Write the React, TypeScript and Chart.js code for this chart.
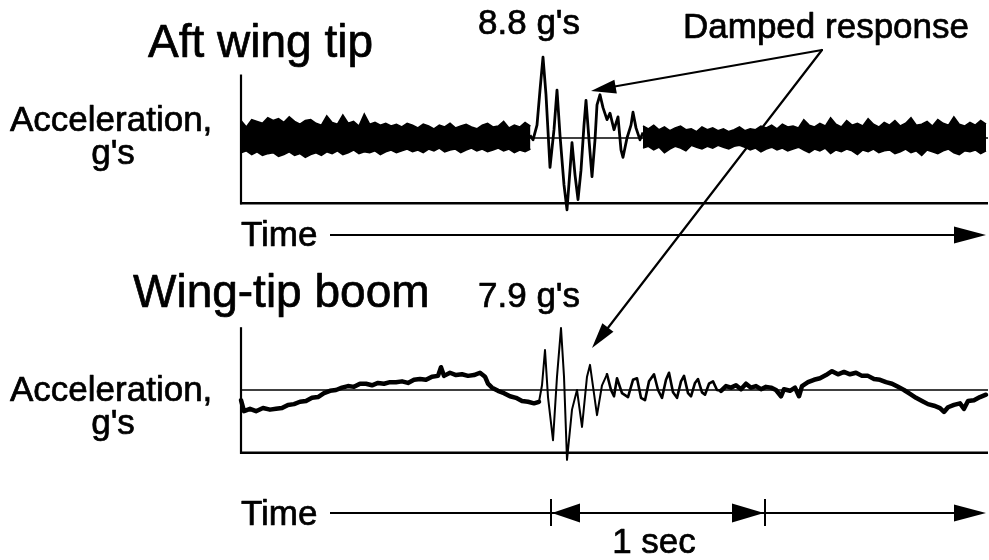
import React, { useEffect, useRef } from "react";
import { Chart, registerables } from "chart.js";

Chart.register(...registerables);

// ---- time base (samples) ----
const SAMPLES_PER_SEC = 214;
const RECORD_LENGTH = 747; // samples shown
const ENV_STEP = 5.36; // samples between envelope readings
const ONE_SEC_START = 310; // sample where the "1 sec" bracket starts

// ---- Aft wing tip: noise envelope (g) read every ENV_STEP samples ----
const aftUpper: (number | null)[] = [
  1.9, 1.2, 2.0, 1.8, 1.6, 2.2, 1.9, 2.1, 1.7, 2.3,
  1.8, 1.5, 1.9, 2.0, 1.6, 1.4, 2.4, 1.7, 1.5, 2.5,
  1.6, 1.8, 1.3, 2.6, 1.5, 1.7, 1.4, 1.6, 1.3, 1.5,
  1.2, 1.6, 1.4, 1.1, 1.5, 1.3, 1.0, 1.4, 1.2, 1.6,
  1.1, 1.3, 1.5, 1.2, 1.0, 1.4, 1.6, 1.2, 1.3, 1.8,
  1.1, 1.4, 1.2, 1.7, 1.3,
  null, null, null, null, null, null, null, null, null, null,
  null, null, null, null, null, null, null, null, null, null,
  1.3, 1.0, 1.4, 0.9, 1.2, 0.8, 1.1, 1.3, 0.9, 1.0,
  0.7, 1.2, 0.9, 1.1, 0.8, 1.0, 0.7, 0.9, 1.2, 0.8,
  1.0, 0.9, 1.3, 1.1, 1.4, 1.0, 1.5, 1.2, 1.3, 1.1,
  2.0, 1.4, 1.2, 1.6, 1.3, 2.2, 1.5, 1.2, 1.9, 1.4,
  1.6, 1.3, 2.1, 1.5, 1.2, 1.7, 1.4, 1.9, 1.3, 1.6,
  2.2, 1.4, 1.5, 1.8, 1.3, 2.0, 1.6, 1.4, 2.3, 1.5,
  1.3, 1.7, 1.4, 1.9, 1.5,
];
const aftLower: (number | null)[] = [
  -1.6, -1.4, -1.8, -1.5, -1.9, -1.7, -1.6, -2.0, -1.8, -1.5,
  -1.9, -1.7, -2.1, -1.8, -1.6, -1.9, -1.5, -1.7, -1.4, -1.8,
  -1.6, -1.3, -1.7, -1.5, -1.6, -1.4, -1.8, -1.5, -1.3, -1.6,
  -1.4, -1.2, -1.5, -1.3, -1.6, -1.2, -1.4, -1.1, -1.5, -1.3,
  -1.2, -1.6, -1.3, -1.1, -1.4, -1.2, -1.5, -1.3, -1.1, -1.4,
  -1.2, -1.6, -1.3, -1.5, -1.2,
  null, null, null, null, null, null, null, null, null, null,
  null, null, null, null, null, null, null, null, null, null,
  -1.1, -0.9, -1.3, -1.0, -1.6, -1.2, -0.9, -1.1, -1.4, -0.8,
  -1.0, -1.2, -0.9, -1.1, -0.8, -1.0, -1.2, -0.9, -0.8, -1.0,
  -1.3, -1.1, -1.5, -1.2, -1.0, -1.3, -1.1, -1.4, -1.2, -1.0,
  -1.3, -1.6, -1.2, -1.4, -1.1, -1.7, -1.3, -1.5, -1.2, -1.4,
  -1.8, -1.3, -1.5, -1.2, -1.6, -1.4, -1.3, -1.7, -1.5, -1.2,
  -1.6, -1.4, -1.9, -1.3, -1.5, -1.7, -1.4, -1.2, -1.6, -1.8,
  -1.4, -1.5, -1.3, -1.7, -1.4,
];

// ---- Aft wing tip: impact transient ----
const aftTransientT = [
  289, 292, 296, 299, 302, 305, 309, 313, 316, 319, 323,
  326, 329, 331, 334, 337, 340, 343, 345, 348, 351,
  354, 356, 359, 362, 366, 369, 373, 377, 380, 382,
  386, 390, 392, 395, 399, 402,
];
const aftTransientG = [
  0.3, -0.2, 1.4, 5.2, 8.8, 4.7, -3.2, 0.9, 5.2, 0.3, -5.1,
  -7.8, -3.5, -0.5, -4.0, -6.7, -3.5, 1.4, 4.1, -0.2, -4.2,
  -0.2, 3.6, 4.7, 3.3, 2.0, 2.7, 0.9, 2.3, -1.3, -2.1,
  0.0, 1.4, 2.8, 1.1, -0.2, 0.6,
];

// ---- Wing-tip boom trace ----
const boomT = [
  0, 3, 9, 15, 22, 29, 35, 41, 47, 53,
  59, 65, 71, 77, 83, 89, 95, 101, 107, 113,
  119, 125, 131, 137, 143, 149, 155, 161, 167, 173,
  179, 185, 191, 197, 200, 203, 209, 215, 221, 227,
  233, 239, 244, 247, 251, 257, 263, 269, 275, 281,
  287, 293, 298, 301, 304, 307, 312, 316, 320, 323,
  326, 331, 336, 341, 346, 349, 356, 361, 366, 370,
  373, 376, 381, 387, 392, 396, 400, 404, 408, 413,
  417, 421, 425, 428, 432, 436, 440, 443, 447, 450,
  454, 457, 461, 464, 468, 472, 476, 480, 485, 490,
  495, 500, 505, 510, 515, 520, 525, 530, 535, 540,
  543, 549, 554, 558, 561, 567, 573, 579, 585, 591,
  597, 603, 609, 615, 621, 627, 633, 639, 645, 651,
  657, 663, 669, 675, 681, 687, 693, 699, 703, 707,
  713, 719, 723, 727, 733, 739, 745,
];
const boomG = [
  -1.3, -2.7, -2.4, -2.7, -2.3, -2.5, -2.4, -2.3, -1.9, -1.8,
  -1.5, -1.4, -1.0, -0.9, -0.4, -0.1, 0.0, 0.3, 0.5, 0.4,
  0.8, 0.8, 0.6, 0.9, 0.8, 1.0, 1.0, 1.1, 0.9, 1.3,
  1.4, 1.3, 1.7, 1.8, 2.9, 1.8, 2.2, 1.9, 2.0, 1.8,
  1.9, 2.2, 1.7, 0.8, 0.3, -0.1, -0.4, -0.8, -1.0, -1.4,
  -1.5, -1.7, -1.5, 0.6, 5.1, -0.9, -6.4, 1.7, 7.9, 1.7,
  -8.9, -2.5, 0.0, -4.7, 1.7, 3.2, -3.2, 0.6, 2.0, 0.0,
  -0.8, 1.5, -0.4, -0.9, 1.3, 1.5, -1.0, -1.3, 1.1, 2.0,
  0.0, -1.0, 1.3, 2.2, -0.3, -1.0, 1.1, 1.8, -0.4, -0.8,
  0.9, 1.4, -0.3, -0.6, 0.8, 1.1, 0.0, -0.1, 0.5, 0.3,
  0.6, 0.1, 0.8, 0.3, 0.5, 0.1, 0.4, 0.3, 0.0, -0.8,
  0.1, -0.1, 0.3, -0.8, 0.5, 1.0, 1.3, 1.5, 1.9, 2.4,
  2.0, 2.3, 2.0, 2.2, 1.8, 1.8, 1.4, 1.3, 1.0, 0.8,
  0.4, 0.0, -0.5, -1.0, -1.4, -1.8, -2.0, -2.3, -2.8, -2.2,
  -1.9, -1.7, -2.4, -1.4, -1.3, -0.9, -0.6,
];

// panel extents (g) of the drawn axis frames
const AFT_PANEL = [-7.1, 6.9];
const BOOM_PANEL = [-8.0, 8.0];

// ---- layout ----
const W = 989;
const H = 560;
const PLOT_LEFT = 241;
const AFT_ZERO_PX = 138;
const AFT_PX_PER_G = 9.2;
const BOOM_ZERO_PX = 390;
const BOOM_PX_PER_G = 7.85;
const FONT = "'Liberation Sans', Arial, Helvetica, sans-serif";

function head(ctx: CanvasRenderingContext2D, tx: number, ty: number, fx: number, fy: number, len: number, half: number) {
  const a = Math.atan2(ty - fy, tx - fx);
  const c = Math.cos(a), s = Math.sin(a);
  const bx = tx - c * len, by = ty - s * len;
  ctx.beginPath();
  ctx.moveTo(tx, ty);
  ctx.lineTo(bx - s * half, by + c * half);
  ctx.lineTo(bx + s * half, by - c * half);
  ctx.closePath();
  ctx.fill();
}

function line(ctx: CanvasRenderingContext2D, x1: number, y1: number, x2: number, y2: number, w: number) {
  ctx.lineWidth = w;
  ctx.beginPath();
  ctx.moveTo(x1, y1);
  ctx.lineTo(x2, y2);
  ctx.stroke();
}

function text(ctx: CanvasRenderingContext2D, s: string, x: number, y: number) {
  ctx.fillText(s, x, y);
  ctx.lineWidth = 0.7;
  ctx.strokeText(s, x, y);
}

const framePlugin = {
  id: "frames",
  beforeDatasetsDraw(chart: any) {
    const { ctx, scales } = chart;
    const x = scales.x;
    const xl = x.getPixelForValue(0);
    const xr = x.getPixelForValue(RECORD_LENGTH);
    ctx.save();
    ctx.strokeStyle = "#000";
    ctx.lineCap = "butt";
    const panels: [any, number[]][] = [
      [scales.yAft, AFT_PANEL],
      [scales.yBoom, BOOM_PANEL],
    ];
    for (const [ys, ext] of panels) {
      const top = ys.getPixelForValue(ext[1]);
      const bot = ys.getPixelForValue(ext[0]);
      const zero = ys.getPixelForValue(0);
      line(ctx, xl, top, xl, bot + 1, 2.2);
      line(ctx, xl - 1, bot, xr, bot, 2.4);
      line(ctx, xl, zero, xr, zero, 1.6);
    }
    ctx.restore();
  },
  afterDatasetsDraw(chart: any) {
    const { ctx, scales } = chart;
    const x = scales.x;
    ctx.save();
    ctx.fillStyle = "#000";
    ctx.strokeStyle = "#000";
    ctx.textBaseline = "alphabetic";
    ctx.lineJoin = "round";

    // titles
    ctx.textAlign = "left";
    ctx.font = `46px ${FONT}`;
    text(ctx, "Aft wing tip", 148, 57);
    text(ctx, "Wing-tip boom", 133, 307);

    ctx.font = `35px ${FONT}`;
    text(ctx, "8.8 g's", 478, 34);
    text(ctx, "7.9 g's", 478, 307);
    text(ctx, "Damped response", 683, 38);
    text(ctx, "Acceleration,", 10, 131);
    text(ctx, "Acceleration,", 10, 401);
    text(ctx, "Time", 241, 246);
    text(ctx, "Time", 241, 525);
    ctx.textAlign = "center";
    text(ctx, "g's", 113, 164);
    text(ctx, "g's", 113, 434);

    // top time arrow
    line(ctx, 330, 235, 960, 235, 2.2);
    head(ctx, 986, 235, 900, 235, 32, 8.5);

    // bottom time arrow with 1-second bracket
    const s0 = x.getPixelForValue(ONE_SEC_START);
    const s1 = x.getPixelForValue(ONE_SEC_START + SAMPLES_PER_SEC);
    const ty = 513;
    line(ctx, 330, ty, 960, ty, 2.2);
    line(ctx, s0, ty - 14, s0, ty + 13, 2);
    line(ctx, s1, ty - 14, s1, ty + 13, 2);
    head(ctx, s0 + 1, ty, s0 + 50, ty, 28, 9.5);
    head(ctx, s1 - 1, ty, s1 - 50, ty, 32, 9.5);
    head(ctx, 986, ty, 900, ty, 32, 8.5);
    text(ctx, "1 sec", (s0 + s1) / 2 - 4, 553);

    // damped response arrows
    const ox = 822, oy = 50;
    ctx.lineCap = "round";
    line(ctx, ox, oy, 606, 88, 2.2);
    head(ctx, 591, 91, ox, oy, 25, 7);
    line(ctx, ox, oy, 604, 333, 2.2);
    head(ctx, 592, 348, ox, oy, 26, 7);
    ctx.restore();
  },
};

export default function App() {
  const ref = useRef<HTMLCanvasElement>(null);
  useEffect(() => {
    if (!ref.current) return;
    const envUpper = aftUpper.map((g, i) => ({ x: i * ENV_STEP, y: g }));
    const envLower = aftLower.map((g, i) => ({ x: i * ENV_STEP, y: g }));
    const transient = aftTransientT.map((t, i) => ({ x: t, y: aftTransientG[i] }));
    const boom = boomT.map((t, i) => ({ x: t, y: boomG[i] }));
    const chart = new Chart(ref.current, {
      type: "line",
      data: {
        datasets: [
          {
            data: envUpper,
            yAxisID: "yAft",
            borderColor: "#000",
            borderWidth: 1.5,
            backgroundColor: "#000",
            fill: "+1",
            pointRadius: 0,
            spanGaps: false,
          },
          {
            data: envLower,
            yAxisID: "yAft",
            borderColor: "#000",
            borderWidth: 1.5,
            fill: false,
            pointRadius: 0,
            spanGaps: false,
          },
          {
            data: transient,
            yAxisID: "yAft",
            borderColor: "#000",
            borderWidth: 2.8,
            borderJoinStyle: "round",
            fill: false,
            pointRadius: 0,
          },
          {
            data: boom,
            yAxisID: "yBoom",
            borderColor: "#000",
            borderWidth: 4.5,
            borderJoinStyle: "round",
            borderCapStyle: "round",
            fill: false,
            pointRadius: 0,
            segment: {
              borderWidth: (c: any) => {
                const a = c.p0.parsed.x, b = c.p1.parsed.x;
                if (a >= 298 && b <= 366) return 2;
                if (a >= 366 && b <= 480) return 2.6;
                return 4.5;
              },
            },
          },
        ],
      },
      options: {
        responsive: false,
        maintainAspectRatio: false,
        animation: false,
        events: [],
        clip: false as any,
        layout: { padding: { left: PLOT_LEFT, right: 1, top: 0, bottom: 0 } },
        plugins: { legend: { display: false }, tooltip: { enabled: false }, title: { display: false } },
        scales: {
          x: { type: "linear", display: false, min: 0, max: RECORD_LENGTH },
          yAft: {
            type: "linear",
            display: false,
            max: AFT_ZERO_PX / AFT_PX_PER_G,
            min: (AFT_ZERO_PX - H) / AFT_PX_PER_G,
          },
          yBoom: {
            type: "linear",
            display: false,
            max: BOOM_ZERO_PX / BOOM_PX_PER_G,
            min: (BOOM_ZERO_PX - H) / BOOM_PX_PER_G,
          },
        },
      },
      plugins: [framePlugin],
    });
    return () => chart.destroy();
  }, []);
  return (
    <div style={{ position: "fixed", left: 0, top: 0, width: W, height: H, background: "#fff" }}>
      <canvas ref={ref} width={W} height={H} style={{ display: "block" }} />
    </div>
  );
}
